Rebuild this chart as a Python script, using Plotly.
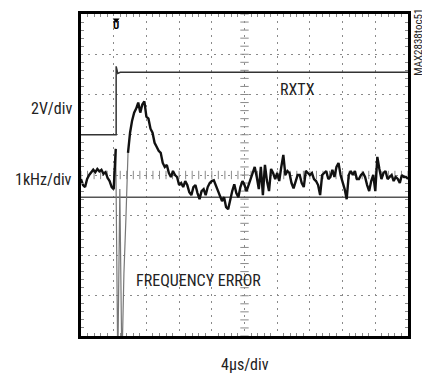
import numpy as np
import plotly.graph_objects as go

# ---- data ----
SAMPLE_US = 0.25  # sample interval of the scope record (us)
freq_err_khz = [
    0.45, 0.30, 0.25, 0.45, 0.55, 0.62, 0.68, 0.62, 0.70, 0.64,
    0.68, 0.58, 0.62, 0.48, 0.40, 0.25, 0.20, 1.20, -4.20, 0.20,
    -4.20, -1.90, -0.50, 1.10, 1.60, 1.90, 2.10, 2.20, 2.35, 2.10,
    2.30, 2.38, 2.00, 1.95, 1.70, 1.60, 1.35, 1.25, 1.15, 1.10,
    0.85, 0.75, 0.80, 0.60, 0.50, 0.65, 0.55, 0.50, 0.30, 0.35,
    0.25, 0.40, 0.30, 0.12, 0.05, 0.25, 0.30, 0.10, -0.05, 0.15,
    0.20, 0.05, 0.25, 0.35, 0.40, 0.42, 0.30, 0.15, 0.05, -0.10,
    0.00, -0.25, -0.30, -0.05, 0.15, 0.32, 0.10, 0.00, 0.25, 0.40,
    0.30, 0.15, 0.30, 0.45, 0.55, 0.75, 0.50, 0.20, 0.75, 0.05,
    0.80, 0.40, 0.15, 0.70, 0.60, 0.45, 0.60, 0.40, 0.75, 1.05,
    0.55, 0.65, 0.60, 0.35, 0.22, 0.40, 0.55, 0.55, 0.35, 0.25,
    0.65, 0.60, 0.55, 0.60, 0.45, 0.40, 0.30, 0.05, 0.55, 0.60,
    0.65, 0.45, 0.50, 0.68, 0.50, 0.75, 0.85, 0.55, 0.40, 0.20,
    -0.05, 0.55, 0.65, 0.55, 0.65, 0.45, 0.45, 0.55, 0.60, 0.50,
    0.30, 0.15, 0.40, 0.55, 0.15, 1.00, 0.70, 0.45, 0.60, 0.65,
    0.45, 0.50, 0.55, 0.40, 0.50, 0.45, 0.35, 0.55, 0.50, 0.50,
    0.45,
]
rxtx_t_us = [0.0, 4.3, 4.3, 4.5, 4.8, 40.0]
rxtx_v = [0.0, 0.0, 3.4, 3.05, 3.1, 3.1]
ref_t_us = [0.0, 40.0]
ref_khz = [0.0, 0.0]

t = np.arange(len(freq_err_khz)) * SAMPLE_US
f = np.array(freq_err_khz)

FONT = "Liberation Sans Narrow, Roboto Condensed, Arial Narrow, Liberation Sans, sans-serif"
GRID = "#8a8a8a"

fig = go.Figure()

# centre graticule tick marks (decoration of the scope screen)
cy = np.arange(-4, 4.001, 0.2)
fig.add_trace(go.Scatter(x=[20] * len(cy), y=cy, mode="markers",
                         marker=dict(symbol="line-ew", size=6, line=dict(color=GRID, width=1)),
                         hoverinfo="skip", showlegend=False))
cx = np.arange(0, 40.001, 0.8)
fig.add_trace(go.Scatter(x=cx, y=[0] * len(cx), mode="markers",
                         marker=dict(symbol="line-ns", size=6, line=dict(color=GRID, width=1)),
                         hoverinfo="skip", showlegend=False))
# trigger position marker
fig.add_trace(go.Scatter(x=[4.3], y=[3.85], mode="markers",
                         marker=dict(symbol="triangle-down", size=6, color="black"),
                         hoverinfo="skip", showlegend=False))

# ground reference of frequency channel
fig.add_trace(go.Scatter(x=ref_t_us, y=ref_khz, yaxis="y3", mode="lines",
                         line=dict(color="#555555", width=1.5), showlegend=False))
# RXTX
fig.add_trace(go.Scatter(x=rxtx_t_us, y=rxtx_v, yaxis="y2", mode="lines",
                         line=dict(color="#333333", width=1.5), showlegend=False))
# frequency error: settled parts in black, fast transients in grey
fig.add_trace(go.Scatter(x=t[16:24], y=f[16:24], yaxis="y3", mode="lines",
                         line=dict(color="#777777", width=1.2), showlegend=False))
fig.add_trace(go.Scatter(x=t[:18], y=f[:18], yaxis="y3", mode="lines",
                         line=dict(color="#111111", width=2.4), showlegend=False))
fig.add_trace(go.Scatter(x=t[23:], y=f[23:], yaxis="y3", mode="lines",
                         line=dict(color="#111111", width=2.4), showlegend=False))

axis_common = dict(showline=True, mirror="allticks", linewidth=3, linecolor="black",
                   showticklabels=False, zeroline=False, ticks="inside", ticklen=0,
                   showgrid=True, gridcolor=GRID, gridwidth=1, griddash="2px,5px",
                   minor=dict(ticks="inside", ticklen=3, tickcolor=GRID, showgrid=False))

# page has an 8px body margin; figure is sized/placed to compensate
fig.update_layout(
    width=422, height=372,
    margin=dict(l=73, r=22, t=3, b=44),
    paper_bgcolor="white", plot_bgcolor="white",
    font=dict(family=FONT, size=16, color="#222222"),
    xaxis=dict(range=[0, 40], dtick=4, **axis_common),
    yaxis=dict(range=[-4, 4], dtick=1, **axis_common),
    yaxis2=dict(range=[-10, 6], overlaying="y", visible=False),
    yaxis3=dict(range=[-3.45, 4.55], overlaying="y", visible=False),
)
fig.update_xaxes(minor_dtick=0.8)
fig.update_yaxes(minor_dtick=0.2, selector=dict(anchor="x"))


def px(xp):
    return (xp - 81) / 327


def py(yp):
    return (336 - yp) / 325


ann = [
    dict(text="2V/div", x=px(74), xanchor="right", y=106),
    dict(text="1kHz/div", x=px(74), xanchor="right", y=178),
    dict(text="RXTX", x=px(297), xanchor="center", y=87),
    dict(text="FREQUENCY ERROR", x=px(198), xanchor="center", y=280),
    dict(text="4\u03bcs/div", x=px(245), xanchor="center", y=365),
]
for a in ann:
    ypx = a.pop("y")
    fig.add_annotation(xref="paper", yref="paper", y=py(ypx),
                       yanchor="middle", showarrow=False, font=dict(size=16), **a)
fig.add_annotation(text="MAX2838toc51", xref="paper", yref="paper",
                   x=px(419), y=py(40), textangle=-90,
                   showarrow=False, font=dict(size=11), xanchor="center", yanchor="middle")
fig.add_annotation(text="<b>U</b>", xref="x", yref="paper", x=4.3, y=py(23),
                   showarrow=False, font=dict(size=11, color="black"), yanchor="middle")

fig.write_html("out.html")
